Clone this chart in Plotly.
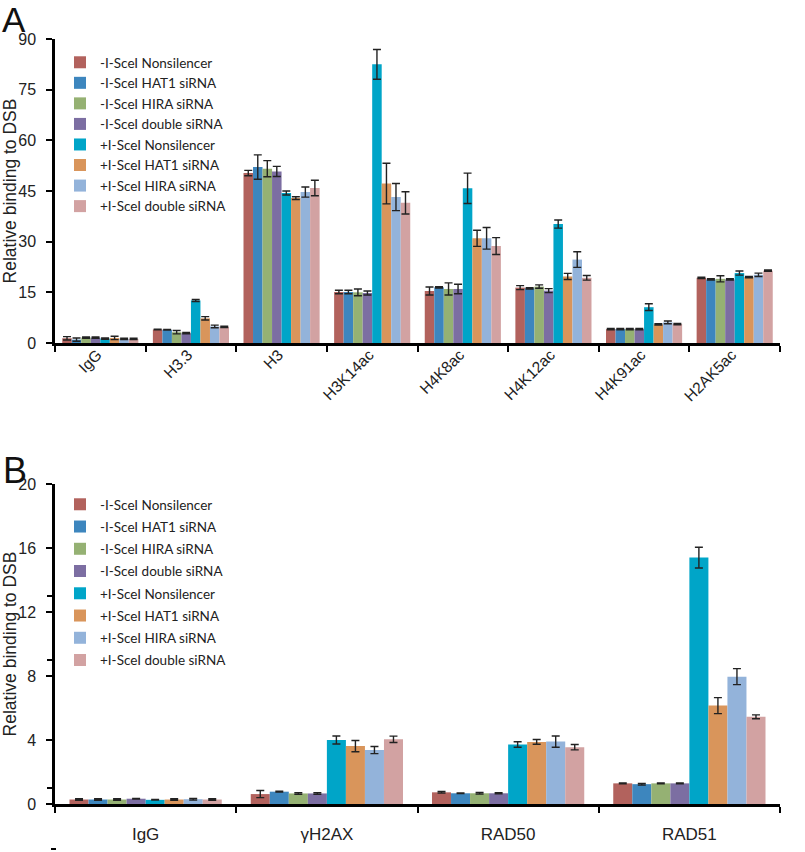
import plotly.graph_objects as go

# ---------------- data ----------------
series_names = [
    "-I-SceI Nonsilencer", "-I-SceI HAT1 siRNA", "-I-SceI HIRA siRNA", "-I-SceI double siRNA",
    "+I-SceI Nonsilencer", "+I-SceI HAT1 siRNA", "+I-SceI HIRA siRNA", "+I-SceI double siRNA",
]
colors = ["#B2625D", "#3D86BE", "#95B173", "#7C6EA2", "#00A5C8", "#D9955B", "#93B3DA", "#D2A2A2"]

cats_A = ["IgG", "H3.3", "H3", "H3K14ac", "H4K8ac", "H4K12ac", "H4K91ac", "H2AK5ac"]
vals_A = [
    [1.4, 4.0, 50.3, 15.1, 15.4, 16.4, 4.1, 19.3],
    [1.0, 3.9, 52.1, 15.1, 16.5, 16.2, 4.1, 18.8],
    [1.6, 3.2, 51.6, 15.0, 16.0, 16.7, 4.1, 19.0],
    [1.6, 2.9, 50.8, 14.8, 16.0, 15.5, 4.1, 18.8],
    [1.3, 12.6, 44.4, 82.5, 45.8, 35.2, 10.6, 20.7],
    [1.5, 7.3, 42.9, 47.2, 31.0, 19.7, 5.5, 19.5],
    [1.2, 4.9, 44.7, 43.2, 31.0, 24.7, 6.1, 20.2],
    [1.2, 4.8, 45.9, 41.5, 28.7, 19.3, 5.6, 21.4],
]
err_A = [
    [0.5, 0.1, 0.8, 0.5, 1.2, 0.6, 0.2, 0.2],
    [0.5, 0.1, 3.6, 0.5, 0.2, 0.2, 0.2, 0.2],
    [0.2, 0.5, 2.4, 1.0, 1.8, 0.5, 0.2, 0.9],
    [0.2, 0.2, 1.5, 0.6, 1.4, 0.6, 0.2, 0.2],
    [0.2, 0.3, 0.6, 4.4, 4.5, 1.2, 1.0, 0.6],
    [0.5, 0.5, 0.4, 6.0, 2.4, 0.9, 0.2, 0.2],
    [0.2, 0.4, 1.5, 4.0, 3.2, 2.3, 0.4, 0.5],
    [0.2, 0.2, 2.3, 3.3, 2.5, 0.7, 0.2, 0.2],
]

cats_B = ["IgG", "γH2AX", "RAD50", "RAD51"]
vals_B = [
    [0.28, 0.62, 0.73, 1.29],
    [0.28, 0.77, 0.67, 1.24],
    [0.28, 0.66, 0.67, 1.29],
    [0.33, 0.66, 0.67, 1.29],
    [0.26, 4.00, 3.72, 15.40],
    [0.28, 3.62, 3.88, 6.15],
    [0.30, 3.37, 3.90, 7.96],
    [0.28, 4.04, 3.55, 5.45],
]
err_B = [
    [0.05, 0.22, 0.05, 0.02],
    [0.05, 0.03, 0.02, 0.05],
    [0.05, 0.05, 0.05, 0.02],
    [0.02, 0.05, 0.03, 0.02],
    [0.02, 0.25, 0.17, 0.65],
    [0.05, 0.35, 0.15, 0.50],
    [0.05, 0.22, 0.35, 0.50],
    [0.05, 0.20, 0.17, 0.12],
]

# ---------------- figure ----------------
W, H = 805, 852
ML, MR, MT, MB = 55, 25, 0, 0
PW = W - ML - MR

def px_x(p):
    return (p - ML) / PW

def px_y(p):
    return (H - p) / H

fig = go.Figure()
err_style = dict(type="data", visible=True, color="#222222", thickness=1.4, width=4)

for i, name in enumerate(series_names):
    fig.add_trace(go.Bar(
        x=cats_A, y=vals_A[i], name=name, marker=dict(color=colors[i], line=dict(width=0)),
        error_y=dict(array=err_A[i], **err_style), xaxis="x", yaxis="y", legend="legend",
    ))
for i, name in enumerate(series_names):
    fig.add_trace(go.Bar(
        x=cats_B, y=vals_B[i], name=name, marker=dict(color=colors[i], line=dict(width=0)),
        error_y=dict(array=err_B[i], **err_style), xaxis="x2", yaxis="y2", legend="legend2",
        legendgroup="b%d" % i,
    ))

font_main = "Liberation Sans, Arial, sans-serif"
font_leg = "Lato, Carlito, Calibri, sans-serif"

axis_common = dict(showline=True, linecolor="black", linewidth=2.5, showgrid=False,
                   zeroline=False, ticks="outside", tickcolor="black", tickwidth=2, ticklen=6)

fig.update_layout(
    width=W, height=H,
    margin=dict(l=ML, r=MR, t=MT, b=MB, autoexpand=False),
    paper_bgcolor="white", plot_bgcolor="white",
    barmode="group", bargap=0.16, bargroupgap=0,
    font=dict(family=font_main, color="#222222"),
    xaxis=dict(domain=[0, 1], anchor="y", tickson="boundaries", tickangle=-45,
               tickfont=dict(size=15.5, family=font_main), ticklabelshift=-3, ticklabelstandoff=-6,
               automargin=False, **axis_common),
    yaxis=dict(domain=[px_y(343), px_y(39)], anchor="x", range=[0, 90], dtick=15,
               tickfont=dict(size=16), ticklabelstandoff=7, automargin=False,
               title=dict(text="Relative binding to DSB", font=dict(size=17.5), standoff=0),
               **axis_common),
    xaxis2=dict(domain=[0, 1], anchor="y2", tickson="boundaries", tickangle=0,
                tickfont=dict(size=17, family=font_main),
                ticklabelstandoff=13, automargin=False, **axis_common),
    yaxis2=dict(domain=[px_y(804), px_y(484)], anchor="x2", range=[0, 20], dtick=4,
                tickfont=dict(size=16), ticklabelstandoff=7, automargin=False,
                title=dict(text="Relative binding to DSB", font=dict(size=17.5), standoff=0),
                minor=dict(tickvals=[1, 9, 13], ticks="outside", ticklen=5, tickwidth=2, tickcolor="black"),
                **axis_common),
    legend=dict(x=px_x(60), y=px_y(47), xanchor="left", yanchor="top",
                bgcolor="rgba(0,0,0,0)", borderwidth=0, itemwidth=30,
                font=dict(size=13.5, family=font_leg, color="#222222"), itemclick=False),
    legend2=dict(x=px_x(60), y=px_y(489), xanchor="left", yanchor="top",
                 bgcolor="rgba(0,0,0,0)", borderwidth=0, itemwidth=30, tracegroupgap=1.7,
                 font=dict(size=13.5, family=font_leg, color="#222222"), itemclick=False),
    annotations=[
        dict(text="A", x=px_x(0), y=px_y(-2), xref="paper", yref="paper", xanchor="left", yanchor="top",
             showarrow=False, font=dict(size=35, family=font_main, color="#111111")),
        dict(text="B", x=px_x(1), y=px_y(448), xref="paper", yref="paper", xanchor="left", yanchor="top",
             showarrow=False, font=dict(size=36, family=font_main, color="#111111")),
    ],
    shapes=[
        dict(type="line", xref="paper", yref="paper", x0=px_x(51), x1=px_x(56), y0=px_y(849), y1=px_y(849),
             line=dict(color="black", width=2)),
    ],
)

fig.write_html("out.html", config={"displayModeBar": False},
               post_script="document.body.style.margin='0';")
